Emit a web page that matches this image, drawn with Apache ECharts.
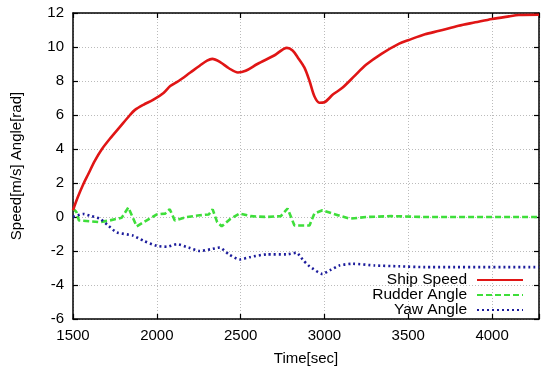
<!DOCTYPE html>
<html><head><meta charset="utf-8">
<script src="https://cdn.jsdelivr.net/npm/echarts@6/dist/echarts.min.js"></script>
<style>html,body{margin:0;padding:0;background:#fff}#c{width:542px;height:371px}</style>
</head><body><div id="c"></div>
<script>
const speedTime = [1500,1530,1560,1590,1630,1673,1720,1780,1840,1870,1920,1980,2040,2080,2130,2200,2256,2300,2331,2380,2430,2484,2530,2600,2700,2776,2810,2840,2880,2911,2940,2970,3000,3050,3107,3180,3248,3340,3446,3500,3600,3685,3800,3900,4000,4100,4160,4280];
const speedVal  = [0.4,1.2,1.9,2.5,3.3,4.0,4.6,5.3,6.0,6.3,6.6,6.9,7.3,7.7,8.0,8.5,8.9,9.2,9.3,9.1,8.75,8.5,8.6,9.0,9.5,9.95,9.8,9.4,8.8,8.0,7.1,6.72,6.75,7.2,7.6,8.3,8.95,9.6,10.2,10.4,10.75,10.95,11.25,11.45,11.65,11.8,11.88,11.9];
const rudderTime = [1500,1520,1535,1600,1660,1720,1790,1830,1880,1940,2000,2050,2077,2107,2180,2256,2310,2333,2360,2387,2440,2494,2560,2655,2740,2780,2821,2911,2940,2988,3050,3149,3250,3400,3600,4280];
const rudderVal  = [0.5,0.3,-0.2,-0.25,-0.3,-0.2,-0.05,0.56,-0.55,-0.2,0.15,0.2,0.46,-0.2,0,0.1,0.15,0.45,-0.3,-0.55,-0.1,0.2,0.05,0,0.05,0.5,-0.5,-0.5,0.2,0.4,0.2,-0.1,0,0.05,0,0];
const yawTime = [1500,1560,1610,1660,1710,1760,1860,1920,2000,2060,2119,2190,2256,2320,2375,2430,2494,2560,2655,2774,2833,2870,2911,2988,3040,3089,3167,3300,3446,3600,4280];
const yawVal  = [0,0.18,0.05,-0.1,-0.5,-0.9,-1.1,-1.4,-1.7,-1.75,-1.6,-1.8,-2.0,-1.9,-1.8,-2.2,-2.5,-2.35,-2.2,-2.2,-2.1,-2.5,-2.9,-3.35,-3.1,-2.85,-2.75,-2.85,-2.9,-2.95,-2.95];
const seriesNames = ['Ship Speed','Rudder Angle','Yaw Angle'];
const xTicks = [1500,2000,2500,3000,3500,4000];
const yTicks = [-6,-4,-2,0,2,4,6,8,10,12];

const zip = (t,v) => t.map((x,i)=>[x,v[i]]);
const font = 'Liberation Sans, Arial, sans-serif';
const gridLine = {show:true,lineStyle:{color:'#bbb',type:[1,2],width:1}};
const axLine = {show:true,onZero:false,lineStyle:{color:'#000',width:1.5}};
const tick = {show:true,inside:true,length:5,lineStyle:{color:'#000',width:1.2}};
const legendTops = [272,287,302];

const chart = echarts.init(document.getElementById('c'),null,{renderer:'canvas'});
chart.setOption({
  animation:false,
  backgroundColor:'#fff',
  grid:{left:73,right:2,top:13,bottom:48,containLabel:false},
  xAxis:[{type:'value',min:1500,max:4280,interval:500,
    axisLine:axLine,axisTick:tick,splitLine:gridLine,
    axisLabel:{color:'#000',fontFamily:font,fontSize:15,margin:9,
      formatter:v=>xTicks.includes(v)?String(v):''},
    name:'Time[sec]',nameLocation:'middle',nameGap:32,
    nameTextStyle:{color:'#000',fontFamily:font,fontSize:15}},
   {type:'value',position:'top',min:1500,max:4280,interval:500,
    axisLine:axLine,axisTick:tick,splitLine:{show:false},axisLabel:{show:false}}],
  yAxis:[{type:'value',min:-6,max:12,interval:2,
    axisLine:axLine,axisTick:tick,splitLine:gridLine,
    axisLabel:{color:'#000',fontFamily:font,fontSize:15,margin:9,
      formatter:v=>yTicks.includes(v)?String(v):''},
    name:'Speed[m/s] Angle[rad]',nameLocation:'middle',nameGap:49,
    nameTextStyle:{color:'#000',fontFamily:font,fontSize:15}},
   {type:'value',position:'right',min:-6,max:12,interval:2,
    axisLine:axLine,axisTick:tick,splitLine:{show:false},axisLabel:{show:false}}],
  legend:seriesNames.map((n,i)=>({orient:'vertical',right:18,top:legendTops[i],align:'right',
    itemWidth:46,itemHeight:12,padding:0,
    itemStyle:{opacity:0},
    textStyle:{color:'#000',fontFamily:font,fontSize:15.5,padding:[0,5,0,0]},
    data:[n]})),
  series:[
    {name:seriesNames[0],type:'line',data:zip(speedTime,speedVal),smooth:0.3,showSymbol:false,symbol:'none',
      lineStyle:{color:'#e01515',width:2.6},itemStyle:{color:'#e01515'},z:3},
    {name:seriesNames[1],type:'line',data:zip(rudderTime,rudderVal),showSymbol:false,symbol:'none',
      lineStyle:{color:'#3ede3a',width:2.6,type:[6,3]},itemStyle:{color:'#3ede3a'},z:2},
    {name:seriesNames[2],type:'line',data:zip(yawTime,yawVal),smooth:0.2,showSymbol:false,symbol:'none',
      lineStyle:{color:'#1c1c9c',width:2.6,type:[2,3]},itemStyle:{color:'#1c1c9c'},z:2}
  ]
});
</script></body></html>
